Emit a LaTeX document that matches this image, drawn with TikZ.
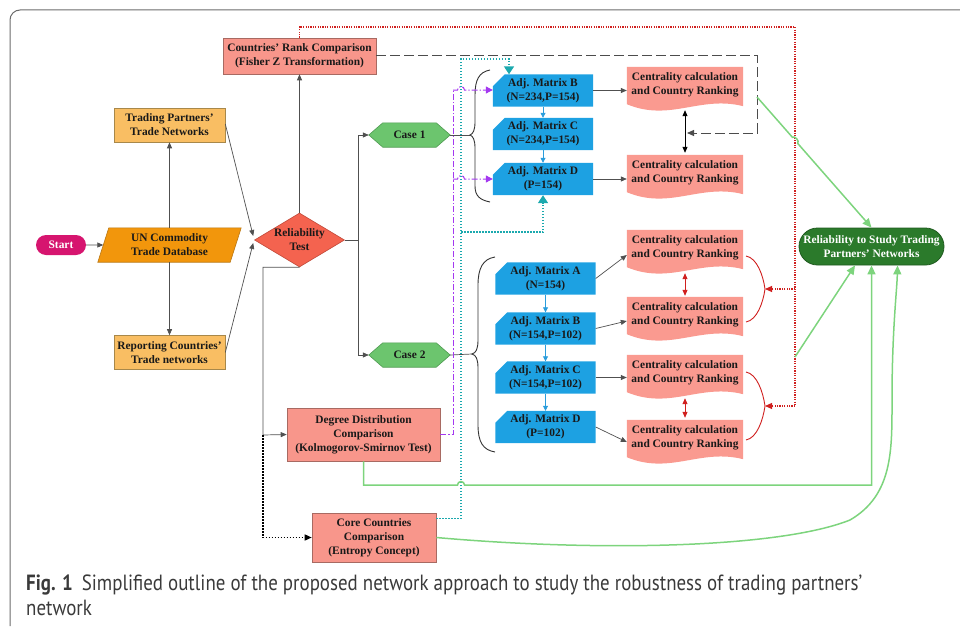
\documentclass[tikz,border=0pt]{standalone}
\usepackage{fontspec}
\setmainfont{Liberation Serif}
\newfontfamily\capfont[FakeStretch=0.86]{PT Sans}
\usetikzlibrary{arrows.meta,shapes.geometric,shapes.misc,backgrounds,calc}
\definecolor{startc}{HTML}{D6156F}
\definecolor{unc}{HTML}{F2960C}
\definecolor{unb}{HTML}{B87510}
\definecolor{tpc}{HTML}{F9BE63}
\definecolor{tpb}{HTML}{A8884A}
\definecolor{diac}{HTML}{F4634F}
\definecolor{diab}{HTML}{C04838}
\definecolor{salc}{HTML}{F8968B}
\definecolor{salb}{HTML}{A86A62}
\definecolor{docc}{HTML}{FA9A90}
\definecolor{casec}{HTML}{6CC56E}
\definecolor{caseb}{HTML}{4E9A50}
\definecolor{adjc}{HTML}{1DA1E2}
\definecolor{gnc}{HTML}{2B7A2B}
\definecolor{gnb}{HTML}{1F5A1F}
\definecolor{greenl}{HTML}{7DD47D}
\definecolor{redd}{HTML}{D0201F}
\definecolor{purp}{HTML}{A438F0}
\definecolor{cyanc}{HTML}{1BA9AE}
\definecolor{bluea}{HTML}{2A9DDC}
\definecolor{linec}{HTML}{505050}
\definecolor{framec}{HTML}{6B6B6B}
\definecolor{capc}{HTML}{3A3A3A}
\newcommand\hexbg[1]{\filldraw[fill=casec,draw=caseb,line width=0.6pt] (#1.west) -- ([xshift=14pt]#1.north west) -- ([xshift=-14pt]#1.north east) -- (#1.east) -- ([xshift=-14pt]#1.south east) -- ([xshift=14pt]#1.south west) -- cycle;}
\newcommand\adjbg[1]{\fill[adjc] ([xshift=12pt]#1.north west) -- (#1.north east) -- (#1.south east) -- (#1.south west) -- ([yshift=-12pt]#1.north west) -- cycle;}
\newcommand\docbg[1]{\fill[docc] (#1.north west) -- (#1.north east) -- ([yshift=-3pt]#1.south east) .. controls ($(#1.south)+(15pt,8pt)$) and ($(#1.south)+(-15pt,-19pt)$) .. ([yshift=-1pt]#1.south west) -- cycle;}
\begin{document}
\begin{tikzpicture}[x=1pt,y=-1pt,
  every node/.style={inner sep=0pt, align=center, font=\fontsize{11.4}{14}\selectfont\bfseries, text=black!90},
  plain/.style={rectangle},
  startst/.style={rounded rectangle, fill=startc, text=white, minimum width=50, minimum height=20},
  tpbox/.style={rectangle, fill=tpc, draw=tpb, line width=0.6pt, minimum width=111, minimum height=34},
  salbox/.style={rectangle, fill=salc, draw=salb, line width=0.6pt},
  adjn/.style={rectangle, minimum width=100, minimum height=32},
  docn/.style={rectangle, minimum width=116, minimum height=36},
  casen/.style={rectangle, minimum width=81, minimum height=24},
  conn/.style={draw=linec, line width=0.7pt},
  arr/.style={conn, -{Triangle[length=6pt,width=5pt]}},
  barr/.style={draw=black, line width=0.8pt, {Triangle[length=6pt,width=5pt]}-{Triangle[length=6pt,width=5pt]}},
  bluearr/.style={draw=bluea, line width=0.8pt, -{Triangle[length=5pt,width=5pt]}},
  rarr/.style={draw=redd, line width=0.8pt, {Triangle[length=6pt,width=5pt]}-{Triangle[length=6pt,width=5pt]}},
  reddot/.style={draw=redd, line width=1.1pt, dash pattern=on 1.2pt off 1.2pt},
  redtip/.style={-{Triangle[length=7pt,width=6pt]}},
  redbr/.style={draw=redd, line width=0.9pt},
  purpl/.style={draw=purp, line width=1pt, dash pattern=on 6pt off 2pt on 1.2pt off 2pt},
  purtip/.style={-{Triangle[length=7pt,width=7pt]}},
  cyanl/.style={draw=cyanc, line width=1.5pt, dash pattern=on 1.5pt off 1.5pt},
  cyantip/.style={-{Triangle[length=8pt,width=10pt]}},
  greenln/.style={draw=greenl, line width=1.5pt},
  greentip/.style={-{Triangle[length=9pt,width=8pt]}},
  longdash/.style={draw=black!70, line width=1pt, dash pattern=on 10pt off 4pt},
  blackdot/.style={draw=black, line width=1.5pt, dash pattern=on 1.5pt off 1.5pt},
  capst/.style={font=\capfont\fontsize{22}{26}\selectfont, text=capc, inner sep=0pt}
]
\useasboundingbox (0,0) rectangle (960,626);
% frame
\draw[draw=framec, line width=1pt, rounded corners=10pt] (960,10) -- (10,10) -- (10,626);

% nodes
\node[startst] (start) at (61,245) {Start};
\node[plain, minimum width=132, minimum height=34] (un) at (169.5,245) {UN Commodity\\Trade Database};
\node[tpbox] (tp) at (169.5,125) {Trading Partners’\\Trade Networks};
\node[tpbox] (rc) at (169.5,352.5) {Reporting Countries’\\Trade networks};
\node[diamond, aspect=1.667, minimum width=90, minimum height=54, fill=diac, draw=diab, line width=0.6pt] (rel) at (299.5,240) {Reliability\\Test};
\node[salbox, minimum width=153, minimum height=36] (rank) at (299.5,56) {Countries’ Rank Comparison\\(Fisher Z Transformation)};
\node[casen] (case1) at (409.5,135) {Case 1};
\node[casen] (case2) at (409.5,355) {Case 2};
\node[salbox, minimum width=153, minimum height=53] (deg) at (363.5,434.5) {Degree Distribution\\Comparison\\(Kolmogorov-Smirnov Test)};
\node[salbox, minimum width=124, minimum height=49] (core) at (374,537.5) {Core Countries\\Comparison\\(Entropy Concept)};

\node[adjn] (c1b) at (543,90.5) {Adj. Matrix B\\(N=234,P=154)};
\node[adjn] (c1c) at (543,134) {Adj. Matrix C\\(N=234,P=154)};
\node[adjn] (c1d) at (543,179) {Adj. Matrix D\\(P=154)};
\node[adjn] (c2a) at (545.5,278.5) {Adj. Matrix A\\(N=154)};
\node[adjn] (c2b) at (545.5,328.5) {Adj. Matrix B\\(N=154,P=102)};
\node[adjn] (c2c) at (545.5,377.5) {Adj. Matrix C\\(N=154,P=102)};
\node[adjn] (c2d) at (545.5,427) {Adj. Matrix D\\(P=102)};

\node[docn] (c1d1) at (685,85) {Centrality calculation\\and Country Ranking};
\node[docn] (c1d2) at (685,173) {Centrality calculation\\and Country Ranking};
\node[docn] (c2d1) at (685,248) {Centrality calculation\\and Country Ranking};
\node[docn] (c2d2) at (685,315) {Centrality calculation\\and Country Ranking};
\node[docn] (c2d3) at (685,373) {Centrality calculation\\and Country Ranking};
\node[docn] (c2d4) at (685,438) {Centrality calculation\\and Country Ranking};

\node[rounded rectangle, fill=gnc, draw=gnb, line width=0.8pt, text=white, minimum width=145, minimum height=37] (gn) at (871.5,246.5) {Reliability to Study Trading\\Partners’ Networks};

% caption
\node[capst, anchor=base west] (cap1) at (26,590) {{\bfseries Fig. 1}\hspace{9pt}Simplified outline of the proposed network approach to study the robustness of trading partners’};
\node[capst, anchor=base west] (cap2) at (26,615) {network};

% backgrounds for custom shapes
\begin{scope}[on background layer]
\filldraw[fill=unc, draw=unb, line width=0.6pt] ([xshift=5.5pt]un.north west) -- ([xshift=5.5pt]un.north east) -- ([xshift=-5.5pt]un.south east) -- ([xshift=-5.5pt]un.south west) -- cycle;
\hexbg{case1}
\hexbg{case2}
\adjbg{c1b}\adjbg{c1c}\adjbg{c1d}
\adjbg{c2a}\adjbg{c2b}\adjbg{c2c}\adjbg{c2d}
\docbg{c1d1}\docbg{c1d2}\docbg{c2d1}\docbg{c2d2}\docbg{c2d3}\docbg{c2d4}
\end{scope}

% coordinates
\coordinate (j1) at (358,240);
\coordinate (j2) at (263,435);
\coordinate (b1tip) at (470,135);
\coordinate (b2tip) at (472,354);
\coordinate (dj) at (687,133);
\coordinate (rd1) at (795,289);
\coordinate (rd2) at (795,406);
\coordinate (cusp1) at (765,289);
\coordinate (cusp2) at (765,406);
\coordinate (g1s) at (757,97);
\coordinate (g2s) at (795,357);
\coordinate (cy1) at (461,59);
\coordinate (cy2) at (461,232);
\coordinate (pu1) at (453,90);
\coordinate (pu2) at (453,179);

% main flow
\draw[arr] (start) -- (un);
\draw[arr] (un) -- (tp);
\draw[arr] (un) -- (rc);
\draw[arr] ([yshift=1pt]tp.east) -- ([shift={(-1pt,4pt)}]rel.west);
\draw[arr] (rc.east) -- ([shift={(-1pt,-3pt)}]rel.west);
\draw[arr] (rel) -- (rank);
\draw[conn] (rel.east) -- (j1);
\draw[arr] (j1) |- (case1);
\draw[arr] (j1) |- (case2);
\draw[arr] (rel.south) -| (j2) -- (deg.west);
\draw[blackdot, -{Triangle[length=7pt,width=6pt]}] (j2) |- (core.west);

% braces
\draw[conn] (case1.east) -- (b1tip);
\draw[conn] (case2.east) -- (b2tip);
\draw[draw=black!80, line width=0.9pt] (490,70) .. controls (479,72) and (475,80) .. (475,95) -- (475,122) .. controls (475,130) and (473,134) .. (b1tip) .. controls (473,136) and (475,140) .. (475,148) -- (475,186) .. controls (475,196) and (480,200) .. (490,202);
\draw[draw=black!80, line width=0.9pt] (495,257) .. controls (483,259) and (478,268) .. (478,285) -- (478,340) .. controls (478,349) and (476,353) .. (b2tip) .. controls (476,355) and (478,359) .. (478,368) -- (478,425) .. controls (478,442) and (483,450) .. (495,452);

% adj vertical
\draw[bluearr] (c1b) -- (c1c);
\draw[bluearr] (c1c) -- (c1d);
\draw[bluearr] (c2a) -- (c2b);
\draw[bluearr] (c2b) -- (c2c);
\draw[bluearr] (c2c) -- (c2d);

% adj to docs
\draw[arr] (c1b.east) -- (c1b.east -| c1d1.west);
\draw[arr] (c1d.east) -- (c1d.east -| c1d2.west);
\draw[arr] (c2a.east) -- ([yshift=-7pt]c2d1.west);
\draw[arr] (c2b.east) -- ([yshift=-6pt]c2d2.west);
\draw[arr] (c2c.east) -- (c2c.east -| c2d3.west);
\draw[arr] (c2d.east) -- ([yshift=-4pt]c2d4.west);

% double arrows between docs
\draw[barr] ([yshift=-7pt]c1d1.south) -- ([yshift=2pt]c1d2.north);
\draw[rarr] ([yshift=-7pt]c2d1.south) -- ([yshift=1pt]c2d2.north);
\draw[rarr] ([yshift=-7pt]c2d3.south) -- ([yshift=2pt]c2d4.north);

% rank dashed
\draw[longdash, -{Triangle[length=7pt,width=6pt]}] (rank.east) -- (757,56) |- (dj);

% red dotted
\draw[reddot] (rank.north) |- (795,27) -- (rd2);
\draw[reddot, redtip] (rd1) -- (cusp1);
\draw[reddot, redtip] (rd2) -- (cusp2);
\draw[redbr] ([shift={(-19pt,33pt)}]cusp1) .. controls ([shift={(-8pt,31pt)}]cusp1) and ([shift={(-2pt,14pt)}]cusp1) .. (cusp1) .. controls ([shift={(-2pt,-14pt)}]cusp1) and ([shift={(-8pt,-31pt)}]cusp1) .. ([shift={(-19pt,-33pt)}]cusp1);
\draw[redbr] ([shift={(-19pt,34pt)}]cusp2) .. controls ([shift={(-8pt,32pt)}]cusp2) and ([shift={(-2pt,14pt)}]cusp2) .. (cusp2) .. controls ([shift={(-2pt,-14pt)}]cusp2) and ([shift={(-8pt,-32pt)}]cusp2) .. ([shift={(-19pt,-34pt)}]cusp2);

% purple
\draw[purpl] (deg.east) -| (pu1);
\draw[purpl, purtip] (pu1) -- (457.5,90) arc (180:360:3.5) -- (c1b.west |- pu1);
\draw[purpl, purtip] (pu2) -- (457.5,179) arc (180:360:3.5) -- (c1d.west |- pu2);

% cyan
\draw[cyanl, cyantip] ([yshift=19pt]core.east) -| (cy1) -| ([xshift=-34pt]c1b.north);
\draw[cyanl, cyantip] (cy2) -| (c1d.south);

% green
\draw[greenln, greentip] (g1s) -- (792.4,137.3) to[bend left=90] (797.6,143.3) -- (gn.north);
\draw[greenln, greentip] (g2s) -- ([xshift=-16.5pt]gn.south);
\draw[greenln, greentip] (deg.south) |- (457.5,485) arc (180:360:3.5) -| (gn.south);
\draw[greenln, greentip] (core.east) .. controls (600,552) and (780,548) .. (850,520) .. controls (893,495) and (892,450) .. (892,400) .. controls (892,330) and (897,290) .. ([xshift=26pt]gn.south);
\end{tikzpicture}
\end{document}
